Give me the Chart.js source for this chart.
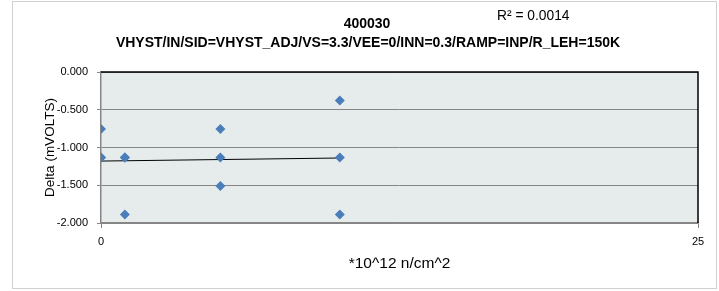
<!DOCTYPE html>
<html>
<head>
<meta charset="utf-8">
<script src="https://cdn.jsdelivr.net/npm/chart.js@4.4.1/dist/chart.umd.min.js"></script>
<style>
  html, body { margin:0; padding:0; background:#fff; }
  #wrap { width:719px; height:291px; position:relative; }
</style>
</head>
<body>
<div id="wrap"><canvas id="c" width="719" height="291"></canvas></div>
<script>
// dados (3 peças por fluência)
const fluence = [0, 0, 0, 1, 1, 1, 5, 5, 5, 10, 10, 10];
const delta = [-0.755, -1.132, -1.132, -1.132, -1.132, -1.887, -0.755, -1.132, -1.51, -0.377, -1.132, -1.887];
const xTicks = [0, 25];
const yTicks = [0, -0.5, -1, -1.5, -2];
const chartTitle = '400030';
const chartSubtitle = 'VHYST/IN/SID=VHYST_ADJ/VS=3.3/VEE=0/INN=0.3/RAMP=INP/R_LEH=150K';
const r2Label = 'R\u00B2 = 0.0014';

// linha de tendência (mínimos quadrados)
const n = fluence.length;
const mx = fluence.reduce((a, b) => a + b, 0) / n;
const my = delta.reduce((a, b) => a + b, 0) / n;
let sxy = 0, sxx = 0;
fluence.forEach((x, i) => { sxy += (x - mx) * (delta[i] - my); sxx += (x - mx) * (x - mx); });
const slope = sxy / sxx;
const icpt = my - slope * mx;
const xMin = Math.min(...fluence), xMax = Math.max(...fluence);
const trend = [xMin, xMax].map(x => ({ x, y: icpt + slope * x }));

const FONT = "'Liberation Sans', Arial, sans-serif";

const decor = {
  id: 'decor',
  beforeDraw(chart) {
    const { ctx, chartArea: a } = chart;
    ctx.save();
    ctx.fillStyle = '#e6ecec';
    ctx.fillRect(a.left, a.top, a.right - a.left, a.bottom - a.top);
    ctx.strokeStyle = '#d0d0d0';
    ctx.lineWidth = 1;
    ctx.strokeRect(12.5, 1.5, 704, 287);
    ctx.restore();
  },
  afterDraw(chart) {
    const { ctx, chartArea: a } = chart;
    ctx.save();
    ctx.strokeStyle = '#000';
    ctx.lineWidth = 1.5;
    ctx.beginPath();
    ctx.moveTo(a.left, a.top);
    ctx.lineTo(a.right, a.top);
    ctx.lineTo(a.right, a.bottom);
    ctx.stroke();
    ctx.fillStyle = '#000';
    ctx.textAlign = 'center';
    ctx.textBaseline = 'middle';
    ctx.font = 'bold 14px ' + FONT;
    ctx.fillText(chartTitle, 367, 24);
    ctx.fillText(chartSubtitle, 368, 43);
    ctx.font = '13.8px ' + FONT;
    ctx.textAlign = 'left';
    ctx.fillText(r2Label, 497, 16);
    ctx.restore();
  }
};

new Chart(document.getElementById('c'), {
  type: 'scatter',
  data: {
    datasets: [
      {
        data: fluence.map((x, i) => ({ x, y: delta[i] })),
        pointStyle: 'rectRot',
        pointRadius: 5,
        backgroundColor: '#4a7ebb',
        borderColor: '#4a7ebb',
        borderWidth: 0
      },
      {
        type: 'line',
        data: trend,
        borderColor: '#000',
        borderWidth: 1,
        pointRadius: 0,
        fill: false
      }
    ]
  },
  options: {
    responsive: false,
    animation: false,
    layout: { padding: { left: 14, right: 21, top: 72, bottom: 14 } },
    plugins: { legend: { display: false }, tooltip: { enabled: false } },
    scales: {
      x: {
        type: 'linear', min: 0, max: 25,
        afterBuildTicks: s => { s.ticks = xTicks.map(v => ({ value: v })); },
        grid: { drawOnChartArea: false, color: '#868686', tickLength: 5 },
        border: { color: '#868686', width: 1.5 },
        ticks: { color: '#000', font: { family: FONT, size: 11 }, padding: 7, maxRotation: 0 },
        title: { display: true, text: '*10^12 n/cm^2', color: '#000', font: { family: FONT, size: 15.5 }, padding: { top: 1 } },
        afterFit: s => { s.height = 54; }
      },
      y: {
        min: -2, max: 0,
        afterBuildTicks: s => { s.ticks = yTicks.map(v => ({ value: v })); },
        grid: { color: '#868686', tickLength: 4 },
        border: { color: '#868686', width: 1.5 },
        ticks: { color: '#000', font: { family: FONT, size: 11 }, padding: 9, callback: v => v.toFixed(3) },
        title: { display: true, text: 'Delta (mVOLTS)', color: '#000', font: { family: FONT, size: 13.5 }, padding: { top: 28 } },
        afterFit: s => { s.width = 87; }
      }
    }
  },
  plugins: [decor]
});
</script>
</body>
</html>
